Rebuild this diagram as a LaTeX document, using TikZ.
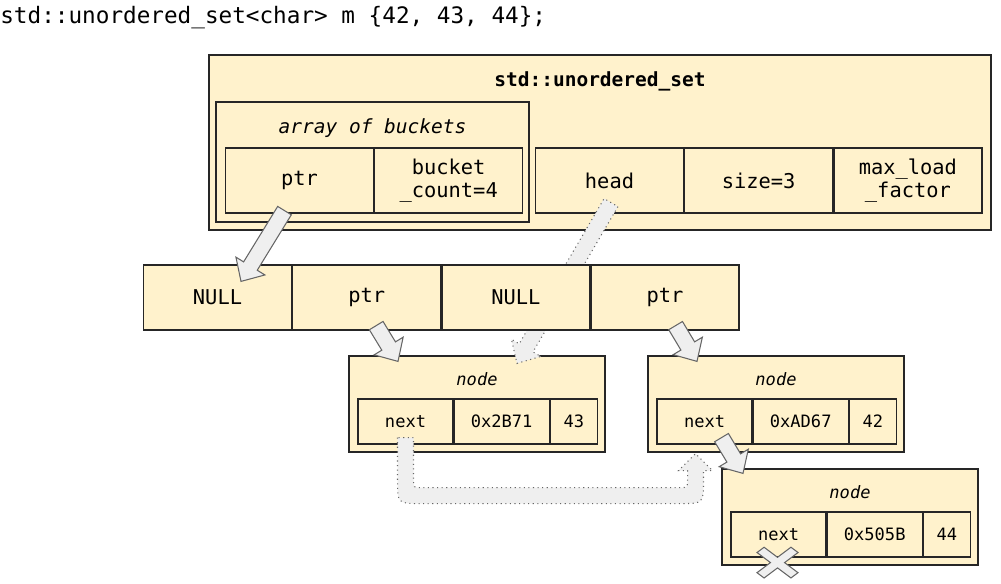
\documentclass[tikz,border=0pt]{standalone}
\usepackage{fontspec}
\setmainfont{DejaVu Sans Mono}
\usetikzlibrary{positioning, calc}
\definecolor{cellfill}{HTML}{FFF2CC}
\definecolor{arrowfill}{HTML}{EFEFEF}
\definecolor{arrowline}{HTML}{666666}
\definecolor{boxline}{HTML}{262626}
% fat block arrow: shaft half width, head half width, head length
\newcommand{\fatshaft}{0.16cm}
\newcommand{\fathead}{0.34cm}
\newcommand{\fatlen}{0.36cm}
\newcommand{\fatarrow}[3][]{%
  \path ($(#3)!\fatlen!(#2)$) coordinate (fatbase);
  \draw[fatarr,#1] ($(#2)!\fatshaft!90:(#3)$) -- ($(fatbase)!\fatshaft!90:(#3)$)
    -- ($(fatbase)!\fathead!90:(#3)$) -- (#3) -- ($(fatbase)!\fathead!-90:(#3)$)
    -- ($(fatbase)!\fatshaft!-90:(#3)$) -- ($(#2)!\fatshaft!-90:(#3)$) -- cycle;}
\tikzset{
  basebox/.style={rectangle,draw=boxline,fill=cellfill,line width=0.7pt,inner sep=0pt,align=center},
  cellbox/.style={basebox,minimum width=2.96cm,minimum height=1.3cm,font=\fontsize{11.6}{13.2}\selectfont},
  nodebox/.style={basebox,minimum width=5.12cm,minimum height=1.92cm},
  nodecell/.style={basebox,minimum height=0.9cm,font=\fontsize{9.7}{11}\selectfont},
  boxtitle/.style={inner sep=0pt,font=\fontsize{11.1}{13}\selectfont},
  nodetitle/.style={inner sep=0pt,font=\fontsize{9.7}{11}\selectfont\itshape},
  fatarr/.style={draw=arrowline,fill=arrowfill,line width=0.6pt,line join=miter},
  dotfatarr/.style={fatarr,dotted},
  crossmark/.style={fatarr}
}

\begin{document}
\begin{tikzpicture}[x=0.02cm,y=-0.02cm]
  \useasboundingbox (0,0) rectangle (1001,584);
  \node[anchor=west,inner sep=0pt,font=\fontsize{12.9}{15}\selectfont] (decl) at (0,18)
      {std::unordered\_set<char> m \{42, 43, 44\};};

  % the set object
  \node[basebox,minimum width=15.64cm,minimum height=3.5cm] (uset) at (600,142.5) {};
  \node[boxtitle,font=\fontsize{11.1}{13}\selectfont\bfseries] (usettitle) at (600,81) {std::unordered\_set};
  \node[basebox,minimum width=6.26cm,minimum height=2.4cm] (arr) at (372.5,162) {};
  \node[boxtitle,font=\fontsize{11.1}{13}\selectfont\itshape] (arrtitle) at (372.5,128) {array of buckets};
  \node[cellbox] (aptr) at (299.5,180.5) {ptr};
  \node[cellbox,right=0pt of aptr] (acount) {bucket\\\_count=4};
  \node[cellbox] (head) at (609.5,180.5) {head};
  \node[cellbox,right=0pt of head] (size) {size=3};
  \node[cellbox,right=0pt of size] (maxload) {max\_load\\\_factor};

  % list nodes
  \node[nodebox] (n1) at (477,404) {};
  \node[nodetitle] (n1title) at ($(n1.north)+(0,24)$) {node};
  \node[nodecell,minimum width=1.9cm,anchor=south west] (n1next) at ($(n1.south west)+(9,-8)$) {next};
  \node[nodecell,minimum width=1.9cm,right=0pt of n1next] (n1hash) {0x2B71};
  \node[nodecell,minimum width=0.94cm,right=0pt of n1hash] (n1val) {43};

  \node[nodebox] (n2) at (776,404) {};
  \node[nodetitle] (n2title) at ($(n2.north)+(0,24)$) {node};
  \node[nodecell,minimum width=1.9cm,anchor=south west] (n2next) at ($(n2.south west)+(9,-8)$) {next};
  \node[nodecell,minimum width=1.9cm,right=0pt of n2next] (n2hash) {0xAD67};
  \node[nodecell,minimum width=0.94cm,right=0pt of n2hash] (n2val) {42};

  \node[nodebox] (n3) at (850,517) {};
  \node[nodetitle] (n3title) at ($(n3.north)+(0,24)$) {node};
  \node[nodecell,minimum width=1.9cm,anchor=south west] (n3next) at ($(n3.south west)+(9,-8)$) {next};
  \node[nodecell,minimum width=1.9cm,right=0pt of n3next] (n3hash) {0x505B};
  \node[nodecell,minimum width=0.94cm,right=0pt of n3hash] (n3val) {44};

  % dotted arrows (behind the bucket array)
  \coordinate (hs) at ($(head.south)+(1.5,-11)$);
  \coordinate (ht) at ($(n1.north)+(40,8)$);
  \fatarrow[dotfatarr]{hs}{ht}
  \coordinate (cstart) at ($(n1next.south)+(0,-7)$);
  \coordinate (ctip) at ($(n2next.south)+(-9,9)$);
  \draw[dotfatarr] let \p1=(cstart), \p2=(ctip) in
    (\x1-4.55pt,\y1) -- (\x1-4.55pt,\y2-15pt)
    .. controls (\x1-4.55pt,\y2-28.45pt) .. (\x1+8.9pt,\y2-28.45pt)
    -- (\x2-8.9pt,\y2-28.45pt)
    .. controls (\x2+4.55pt,\y2-28.45pt) .. (\x2+4.55pt,\y2-15pt)
    -- (\x2+4.55pt,\y2-9.67pt) -- (\x2+9.67pt,\y2-9.67pt) -- (\x2,\y2)
    -- (\x2-9.67pt,\y2-9.67pt) -- (\x2-4.55pt,\y2-9.67pt) -- (\x2-4.55pt,\y2-15pt)
    .. controls (\x2-4.55pt,\y2-19.35pt) .. (\x2-8.9pt,\y2-19.35pt)
    -- (\x1+8.9pt,\y2-19.35pt)
    .. controls (\x1+4.55pt,\y2-19.35pt) .. (\x1+4.55pt,\y2-15pt)
    -- (\x1+4.55pt,\y1) -- cycle;

  % bucket array
  \node[cellbox] (b1) at (217.5,297.5) {NULL};
  \node[cellbox,right=0pt of b1] (b2) {ptr};
  \node[cellbox,right=0pt of b2] (b3) {NULL};
  \node[cellbox,right=0pt of b3] (b4) {ptr};

  % solid arrows
  \coordinate (a1s) at ($(aptr.south)+(-15,-3)$);
  \coordinate (a1t) at ($(b1.north)+(23.5,17)$);
  \fatarrow{a1s}{a1t}
  \coordinate (a2s) at ($(b2.south)+(9.5,-5)$);
  \coordinate (a2t) at ($(n1.north)+(-79,6)$);
  \fatarrow{a2s}{a2t}
  \coordinate (a3s) at ($(b4.south)+(10.5,-5)$);
  \coordinate (a3t) at ($(n2.north)+(-79,6)$);
  \fatarrow{a3s}{a3t}
  \coordinate (a4s) at ($(n2next.south)+(17,-7)$);
  \coordinate (a4t) at ($(n3.north)+(-107,5)$);
  \fatarrow{a4s}{a4t}

  % end of list
  \begin{scope}[shift={($(n3next.south)+(-1,5)$)},yscale=0.75,rotate=45]
    \draw[crossmark] (5,5) -- (24,5) -- (24,-5) -- (5,-5) -- (5,-24) -- (-5,-24) -- (-5,-5)
      -- (-24,-5) -- (-24,5) -- (-5,5) -- (-5,24) -- (5,24) -- cycle;
  \end{scope}
\end{tikzpicture}
\end{document}
